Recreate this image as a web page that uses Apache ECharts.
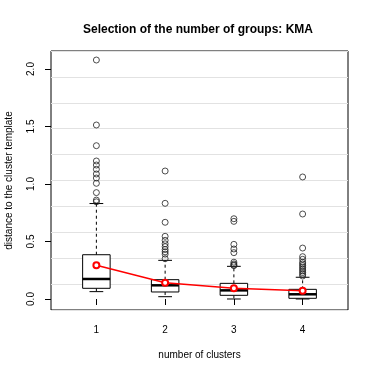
<!DOCTYPE html>
<html>
<head>
    <meta charset="utf-8">
    <title>KMA</title>
    <script src="https://cdn.jsdelivr.net/npm/echarts@6/dist/echarts.min.js"></script>
    <style>html,body{margin:0;padding:0;background:#fff;}</style>
</head>
<body>
<div id="main" style="width: 374px;height:374px;"></div>
<script type="text/javascript">
// clusters and box statistics
var clusters = [1, 2, 3, 4];
var whiskLow = [0.064, 0.020, 0.000, 0.000];
var boxQ1    = [0.093, 0.061, 0.032, 0.006];
var boxMed   = [0.174, 0.119, 0.075, 0.041];
var boxQ3    = [0.385, 0.168, 0.136, 0.084];
var whiskHigh= [0.830, 0.336, 0.284, 0.189];
var means    = [0.293, 0.142, 0.093, 0.072];

var outliers1 = [2.078, 1.513, 1.333, 1.200, 1.165, 1.128, 1.087, 1.052, 1.006, 0.925, 0.860, 0.845];
var outliers2 = [1.113, 0.832, 0.667, 0.545, 0.510, 0.480, 0.455, 0.430, 0.410, 0.390, 0.350];
var outliers3 = [0.698, 0.675, 0.475, 0.435, 0.403, 0.320, 0.305, 0.295, 0.290];
var outliers4 = [1.061, 0.739, 0.443, 0.368, 0.345, 0.320, 0.305, 0.290, 0.275, 0.260, 0.245, 0.230, 0.215, 0.200];

var yTicks = [0, 0.5, 1.0, 1.5, 2.0];

var boxData = [];
for (var i = 0; i < clusters.length; i++) {
    boxData.push([clusters[i], whiskLow[i], boxQ1[i], boxMed[i], boxQ3[i], whiskHigh[i]]);
}
var outData = [];
[outliers1, outliers2, outliers3, outliers4].forEach(function (arr, i) {
    arr.forEach(function (v) { outData.push([clusters[i], v]); });
});
var meanData = clusters.map(function (c, i) { return [c, means[i]]; });

var font = "'Liberation Sans', Arial, sans-serif";
var yMin = -0.0957, yMax = 2.1565;

var myChart = echarts.init(document.getElementById('main'));
var option = {
    animation: false,
    backgroundColor: '#fff',
    textStyle: { fontFamily: font },
    title: {
        text: 'Selection of the number of groups: KMA',
        left: 78,
        top: 19,
        textStyle: { fontSize: 12, fontWeight: 'bold', color: '#000', fontFamily: font }
    },
    grid: {
        left: 51, right: 26, top: 51, bottom: 64,
        outerBoundsMode: 'none',
        containLabel: false,
        show: true, borderColor: '#000', borderWidth: 1, backgroundColor: 'transparent'
    },
    xAxis: {
        type: 'value',
        min: 0.34, max: 4.66,
        name: 'number of clusters',
        nameLocation: 'middle',
        nameGap: 40,
        nameTextStyle: { fontSize: 10, color: '#000', fontFamily: font },
        axisLine: { show: false },
        axisTick: { customValues: clusters, length: 6, lineStyle: { color: '#000' } },
        axisLabel: { customValues: clusters, margin: 15, fontSize: 10, color: '#000', fontFamily: font },
        splitLine: { show: false }
    },
    yAxis: [
        {
            type: 'value',
            min: yMin, max: yMax,
            name: 'distance to the cluster template',
            nameLocation: 'middle',
            nameGap: 37,
            nameTextStyle: { fontSize: 10, color: '#000', fontFamily: font },
            axisLine: { show: false },
            axisTick: { customValues: yTicks, length: 6, lineStyle: { color: '#000' } },
            axisLabel: {
                customValues: yTicks, rotate: 90, margin: 15, fontSize: 10, color: '#000', fontFamily: font,
                formatter: function (v) { return v.toFixed(1); }
            },
            splitLine: { show: false }
        },
        {
            type: 'value',
            position: 'right',
            min: yMin, max: yMax,
            interval: (yMax - yMin) / 10,
            axisLine: { show: false },
            axisTick: { show: false },
            axisLabel: { show: false },
            splitLine: { show: true, lineStyle: { color: '#e2e2e2', width: 1 } }
        }
    ],
    series: [
        {
            type: 'custom',
            data: boxData,
            encode: { x: 0, y: [1, 2, 3, 4, 5] },
            renderItem: function (params, api) {
                var x = api.value(0);
                var lo = api.coord([x, api.value(1)]);
                var q1 = api.coord([x, api.value(2)]);
                var md = api.coord([x, api.value(3)]);
                var q3 = api.coord([x, api.value(4)]);
                var hi = api.coord([x, api.value(5)]);
                var hw = api.size([0.2, 0])[0];
                var cw = hw / 2;
                var cx = md[0];
                var dashed = { stroke: '#000', lineWidth: 1, lineDash: [3, 3] };
                var solid = { stroke: '#000', lineWidth: 1 };
                function seg(x1, y1, x2, y2, st) {
                    return { type: 'line', shape: { x1: x1, y1: y1, x2: x2, y2: y2 }, style: st };
                }
                return {
                    type: 'group',
                    children: [
                        seg(cx, q3[1], cx, hi[1], dashed),
                        seg(cx, q1[1], cx, lo[1], dashed),
                        seg(cx - cw, hi[1], cx + cw, hi[1], solid),
                        seg(cx - cw, lo[1], cx + cw, lo[1], solid),
                        { type: 'rect', shape: { x: cx - hw, y: q3[1], width: 2 * hw, height: q1[1] - q3[1] },
                          style: { fill: '#fff', stroke: '#000', lineWidth: 1 } },
                        seg(cx - hw, md[1], cx + hw, md[1], { stroke: '#000', lineWidth: 2.5 })
                    ]
                };
            }
        },
        {
            type: 'scatter',
            data: outData,
            symbol: 'circle',
            symbolSize: 6,
            itemStyle: { color: 'transparent', borderColor: '#222', borderWidth: 1 }
        },
        {
            type: 'line',
            data: meanData,
            symbol: 'emptyCircle',
            symbolSize: 6,
            lineStyle: { color: '#ff0000', width: 1.5 },
            itemStyle: { color: '#ff0000', borderColor: '#ff0000', borderWidth: 2 }
        }
    ]
};
myChart.setOption(option);
window.onresize = function(){
    myChart.resize();
}
</script>
</body>
</html>
